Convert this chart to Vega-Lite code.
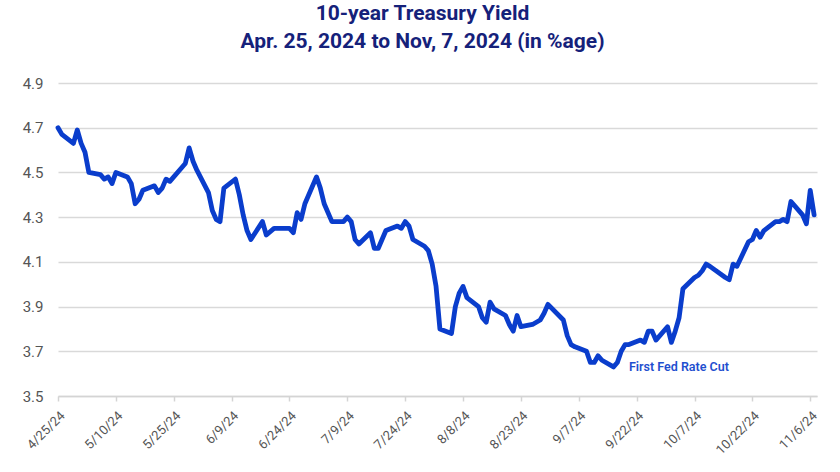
{
  "$schema": "https://vega.github.io/schema/vega-lite/v6.json",
  "width": 759,
  "height": 313,
  "autosize": {"type": "none"},
  "padding": {"left": 58, "top": 83, "right": 23, "bottom": 76},
  "background": "white",
  "config": {
    "view": {"stroke": null},
    "font": "Roboto"
  },
  "title": {
    "text": ["10-year Treasury Yield", "Apr. 25, 2024 to Nov, 7, 2024 (in %age)"],
    "anchor": "middle",
    "frame": "group",
    "fontSize": 21,
    "fontWeight": "bold",
    "color": "#15217a",
    "lineHeight": 28,
    "offset": 24,
    "dx": -15
  },
  "layer": [
    {
      "data": {
        "values": [
          {"date": "2024-04-25", "yield": 4.70},
          {"date": "2024-04-26", "yield": 4.67},
          {"date": "2024-04-29", "yield": 4.63},
          {"date": "2024-04-30", "yield": 4.69},
          {"date": "2024-05-01", "yield": 4.63},
          {"date": "2024-05-02", "yield": 4.59},
          {"date": "2024-05-03", "yield": 4.50},
          {"date": "2024-05-06", "yield": 4.49},
          {"date": "2024-05-07", "yield": 4.47},
          {"date": "2024-05-08", "yield": 4.48},
          {"date": "2024-05-09", "yield": 4.45},
          {"date": "2024-05-10", "yield": 4.50},
          {"date": "2024-05-13", "yield": 4.48},
          {"date": "2024-05-14", "yield": 4.45},
          {"date": "2024-05-15", "yield": 4.36},
          {"date": "2024-05-16", "yield": 4.38},
          {"date": "2024-05-17", "yield": 4.42},
          {"date": "2024-05-20", "yield": 4.44},
          {"date": "2024-05-21", "yield": 4.41},
          {"date": "2024-05-22", "yield": 4.43},
          {"date": "2024-05-23", "yield": 4.47},
          {"date": "2024-05-24", "yield": 4.46},
          {"date": "2024-05-28", "yield": 4.54},
          {"date": "2024-05-29", "yield": 4.61},
          {"date": "2024-05-30", "yield": 4.55},
          {"date": "2024-05-31", "yield": 4.51},
          {"date": "2024-06-03", "yield": 4.41},
          {"date": "2024-06-04", "yield": 4.33},
          {"date": "2024-06-05", "yield": 4.29},
          {"date": "2024-06-06", "yield": 4.28},
          {"date": "2024-06-07", "yield": 4.43},
          {"date": "2024-06-10", "yield": 4.47},
          {"date": "2024-06-11", "yield": 4.40},
          {"date": "2024-06-12", "yield": 4.31},
          {"date": "2024-06-13", "yield": 4.24},
          {"date": "2024-06-14", "yield": 4.20},
          {"date": "2024-06-17", "yield": 4.28},
          {"date": "2024-06-18", "yield": 4.22},
          {"date": "2024-06-20", "yield": 4.25},
          {"date": "2024-06-21", "yield": 4.25},
          {"date": "2024-06-24", "yield": 4.25},
          {"date": "2024-06-25", "yield": 4.23},
          {"date": "2024-06-26", "yield": 4.32},
          {"date": "2024-06-27", "yield": 4.29},
          {"date": "2024-06-28", "yield": 4.36},
          {"date": "2024-07-01", "yield": 4.48},
          {"date": "2024-07-02", "yield": 4.43},
          {"date": "2024-07-03", "yield": 4.36},
          {"date": "2024-07-05", "yield": 4.28},
          {"date": "2024-07-08", "yield": 4.28},
          {"date": "2024-07-09", "yield": 4.30},
          {"date": "2024-07-10", "yield": 4.28},
          {"date": "2024-07-11", "yield": 4.20},
          {"date": "2024-07-12", "yield": 4.18},
          {"date": "2024-07-15", "yield": 4.23},
          {"date": "2024-07-16", "yield": 4.16},
          {"date": "2024-07-17", "yield": 4.16},
          {"date": "2024-07-18", "yield": 4.20},
          {"date": "2024-07-19", "yield": 4.24},
          {"date": "2024-07-22", "yield": 4.26},
          {"date": "2024-07-23", "yield": 4.25},
          {"date": "2024-07-24", "yield": 4.28},
          {"date": "2024-07-25", "yield": 4.26},
          {"date": "2024-07-26", "yield": 4.20},
          {"date": "2024-07-29", "yield": 4.17},
          {"date": "2024-07-30", "yield": 4.15},
          {"date": "2024-07-31", "yield": 4.09},
          {"date": "2024-08-01", "yield": 3.99},
          {"date": "2024-08-02", "yield": 3.80},
          {"date": "2024-08-05", "yield": 3.78},
          {"date": "2024-08-06", "yield": 3.90},
          {"date": "2024-08-07", "yield": 3.96},
          {"date": "2024-08-08", "yield": 3.99},
          {"date": "2024-08-09", "yield": 3.94},
          {"date": "2024-08-12", "yield": 3.90},
          {"date": "2024-08-13", "yield": 3.85},
          {"date": "2024-08-14", "yield": 3.83},
          {"date": "2024-08-15", "yield": 3.92},
          {"date": "2024-08-16", "yield": 3.89},
          {"date": "2024-08-19", "yield": 3.86},
          {"date": "2024-08-20", "yield": 3.82},
          {"date": "2024-08-21", "yield": 3.79},
          {"date": "2024-08-22", "yield": 3.86},
          {"date": "2024-08-23", "yield": 3.81},
          {"date": "2024-08-26", "yield": 3.82},
          {"date": "2024-08-27", "yield": 3.83},
          {"date": "2024-08-28", "yield": 3.84},
          {"date": "2024-08-29", "yield": 3.87},
          {"date": "2024-08-30", "yield": 3.91},
          {"date": "2024-09-03", "yield": 3.84},
          {"date": "2024-09-04", "yield": 3.77},
          {"date": "2024-09-05", "yield": 3.73},
          {"date": "2024-09-06", "yield": 3.72},
          {"date": "2024-09-09", "yield": 3.70},
          {"date": "2024-09-10", "yield": 3.65},
          {"date": "2024-09-11", "yield": 3.65},
          {"date": "2024-09-12", "yield": 3.68},
          {"date": "2024-09-13", "yield": 3.66},
          {"date": "2024-09-16", "yield": 3.63},
          {"date": "2024-09-17", "yield": 3.65},
          {"date": "2024-09-18", "yield": 3.70},
          {"date": "2024-09-19", "yield": 3.73},
          {"date": "2024-09-20", "yield": 3.73},
          {"date": "2024-09-23", "yield": 3.75},
          {"date": "2024-09-24", "yield": 3.74},
          {"date": "2024-09-25", "yield": 3.79},
          {"date": "2024-09-26", "yield": 3.79},
          {"date": "2024-09-27", "yield": 3.75},
          {"date": "2024-09-30", "yield": 3.81},
          {"date": "2024-10-01", "yield": 3.74},
          {"date": "2024-10-02", "yield": 3.79},
          {"date": "2024-10-03", "yield": 3.85},
          {"date": "2024-10-04", "yield": 3.98},
          {"date": "2024-10-07", "yield": 4.03},
          {"date": "2024-10-08", "yield": 4.04},
          {"date": "2024-10-09", "yield": 4.06},
          {"date": "2024-10-10", "yield": 4.09},
          {"date": "2024-10-11", "yield": 4.08},
          {"date": "2024-10-15", "yield": 4.03},
          {"date": "2024-10-16", "yield": 4.02},
          {"date": "2024-10-17", "yield": 4.09},
          {"date": "2024-10-18", "yield": 4.08},
          {"date": "2024-10-21", "yield": 4.19},
          {"date": "2024-10-22", "yield": 4.20},
          {"date": "2024-10-23", "yield": 4.24},
          {"date": "2024-10-24", "yield": 4.21},
          {"date": "2024-10-25", "yield": 4.24},
          {"date": "2024-10-28", "yield": 4.28},
          {"date": "2024-10-29", "yield": 4.28},
          {"date": "2024-10-30", "yield": 4.29},
          {"date": "2024-10-31", "yield": 4.28},
          {"date": "2024-11-01", "yield": 4.37},
          {"date": "2024-11-04", "yield": 4.31},
          {"date": "2024-11-05", "yield": 4.27},
          {"date": "2024-11-06", "yield": 4.42},
          {"date": "2024-11-07", "yield": 4.31}
        ]
      },
      "mark": {"type": "line", "color": "#0a3dcc", "strokeWidth": 4.8, "strokeJoin": "round", "strokeCap": "round"},
      "encoding": {
        "x": {
          "field": "date",
          "type": "temporal",
          "scale": {
            "type": "utc",
            "domain": [
              {"year": 2024, "month": 4, "date": 25, "utc": true},
              {"year": 2024, "month": 11, "date": 7, "hours": 18, "utc": true}
            ]
          },
          "axis": {
            "title": null,
            "values": [
              {"year": 2024, "month": 4, "date": 25, "utc": true},
              {"year": 2024, "month": 5, "date": 10, "utc": true},
              {"year": 2024, "month": 5, "date": 25, "utc": true},
              {"year": 2024, "month": 6, "date": 9, "utc": true},
              {"year": 2024, "month": 6, "date": 24, "utc": true},
              {"year": 2024, "month": 7, "date": 9, "utc": true},
              {"year": 2024, "month": 7, "date": 24, "utc": true},
              {"year": 2024, "month": 8, "date": 8, "utc": true},
              {"year": 2024, "month": 8, "date": 23, "utc": true},
              {"year": 2024, "month": 9, "date": 7, "utc": true},
              {"year": 2024, "month": 9, "date": 22, "utc": true},
              {"year": 2024, "month": 10, "date": 7, "utc": true},
              {"year": 2024, "month": 10, "date": 22, "utc": true},
              {"year": 2024, "month": 11, "date": 6, "utc": true}
            ],
            "labelExpr": "utcFormat(datum.value, '%-m/%-d/%y')",
            "labelAngle": -45,
            "labelAlign": "right",
            "labelBaseline": "top",
            "labelPadding": 8,
            "labelDx": 3,
            "labelFontSize": 13,
            "labelColor": "#555555",
            "labelFont": "Roboto",
            "labelOverlap": false,
            "labelFlush": false,
            "grid": false,
            "domain": true,
            "domainColor": "#d4d4d4",
            "domainWidth": 1.5,
            "ticks": true,
            "tickColor": "#d4d4d4",
            "tickWidth": 1.5,
            "tickSize": 5
          }
        },
        "y": {
          "field": "yield",
          "type": "quantitative",
          "scale": {"domain": [3.5, 4.9], "nice": false, "zero": false},
          "axis": {
            "title": null,
            "values": [3.5, 3.7, 3.9, 4.1, 4.3, 4.5, 4.7, 4.9],
            "format": ".1f",
            "domain": false,
            "ticks": false,
            "grid": true,
            "gridColor": "#d9d9d9",
            "gridWidth": 1.5,
            "labelFontSize": 15,
            "labelColor": "#555555",
            "labelPadding": 15,
            "labelFont": "Roboto"
          }
        }
      }
    },
    {
      "data": {"values": [{"date": "2024-09-20", "yield": 3.63, "label": "First Fed Rate Cut"}]},
      "mark": {"type": "text", "align": "left", "baseline": "middle", "color": "#1f4fcf", "fontSize": 12.5, "fontWeight": 600, "font": "Roboto"},
      "encoding": {
        "x": {"field": "date", "type": "temporal"},
        "y": {"field": "yield", "type": "quantitative"},
        "text": {"field": "label"}
      }
    }
  ]
}
